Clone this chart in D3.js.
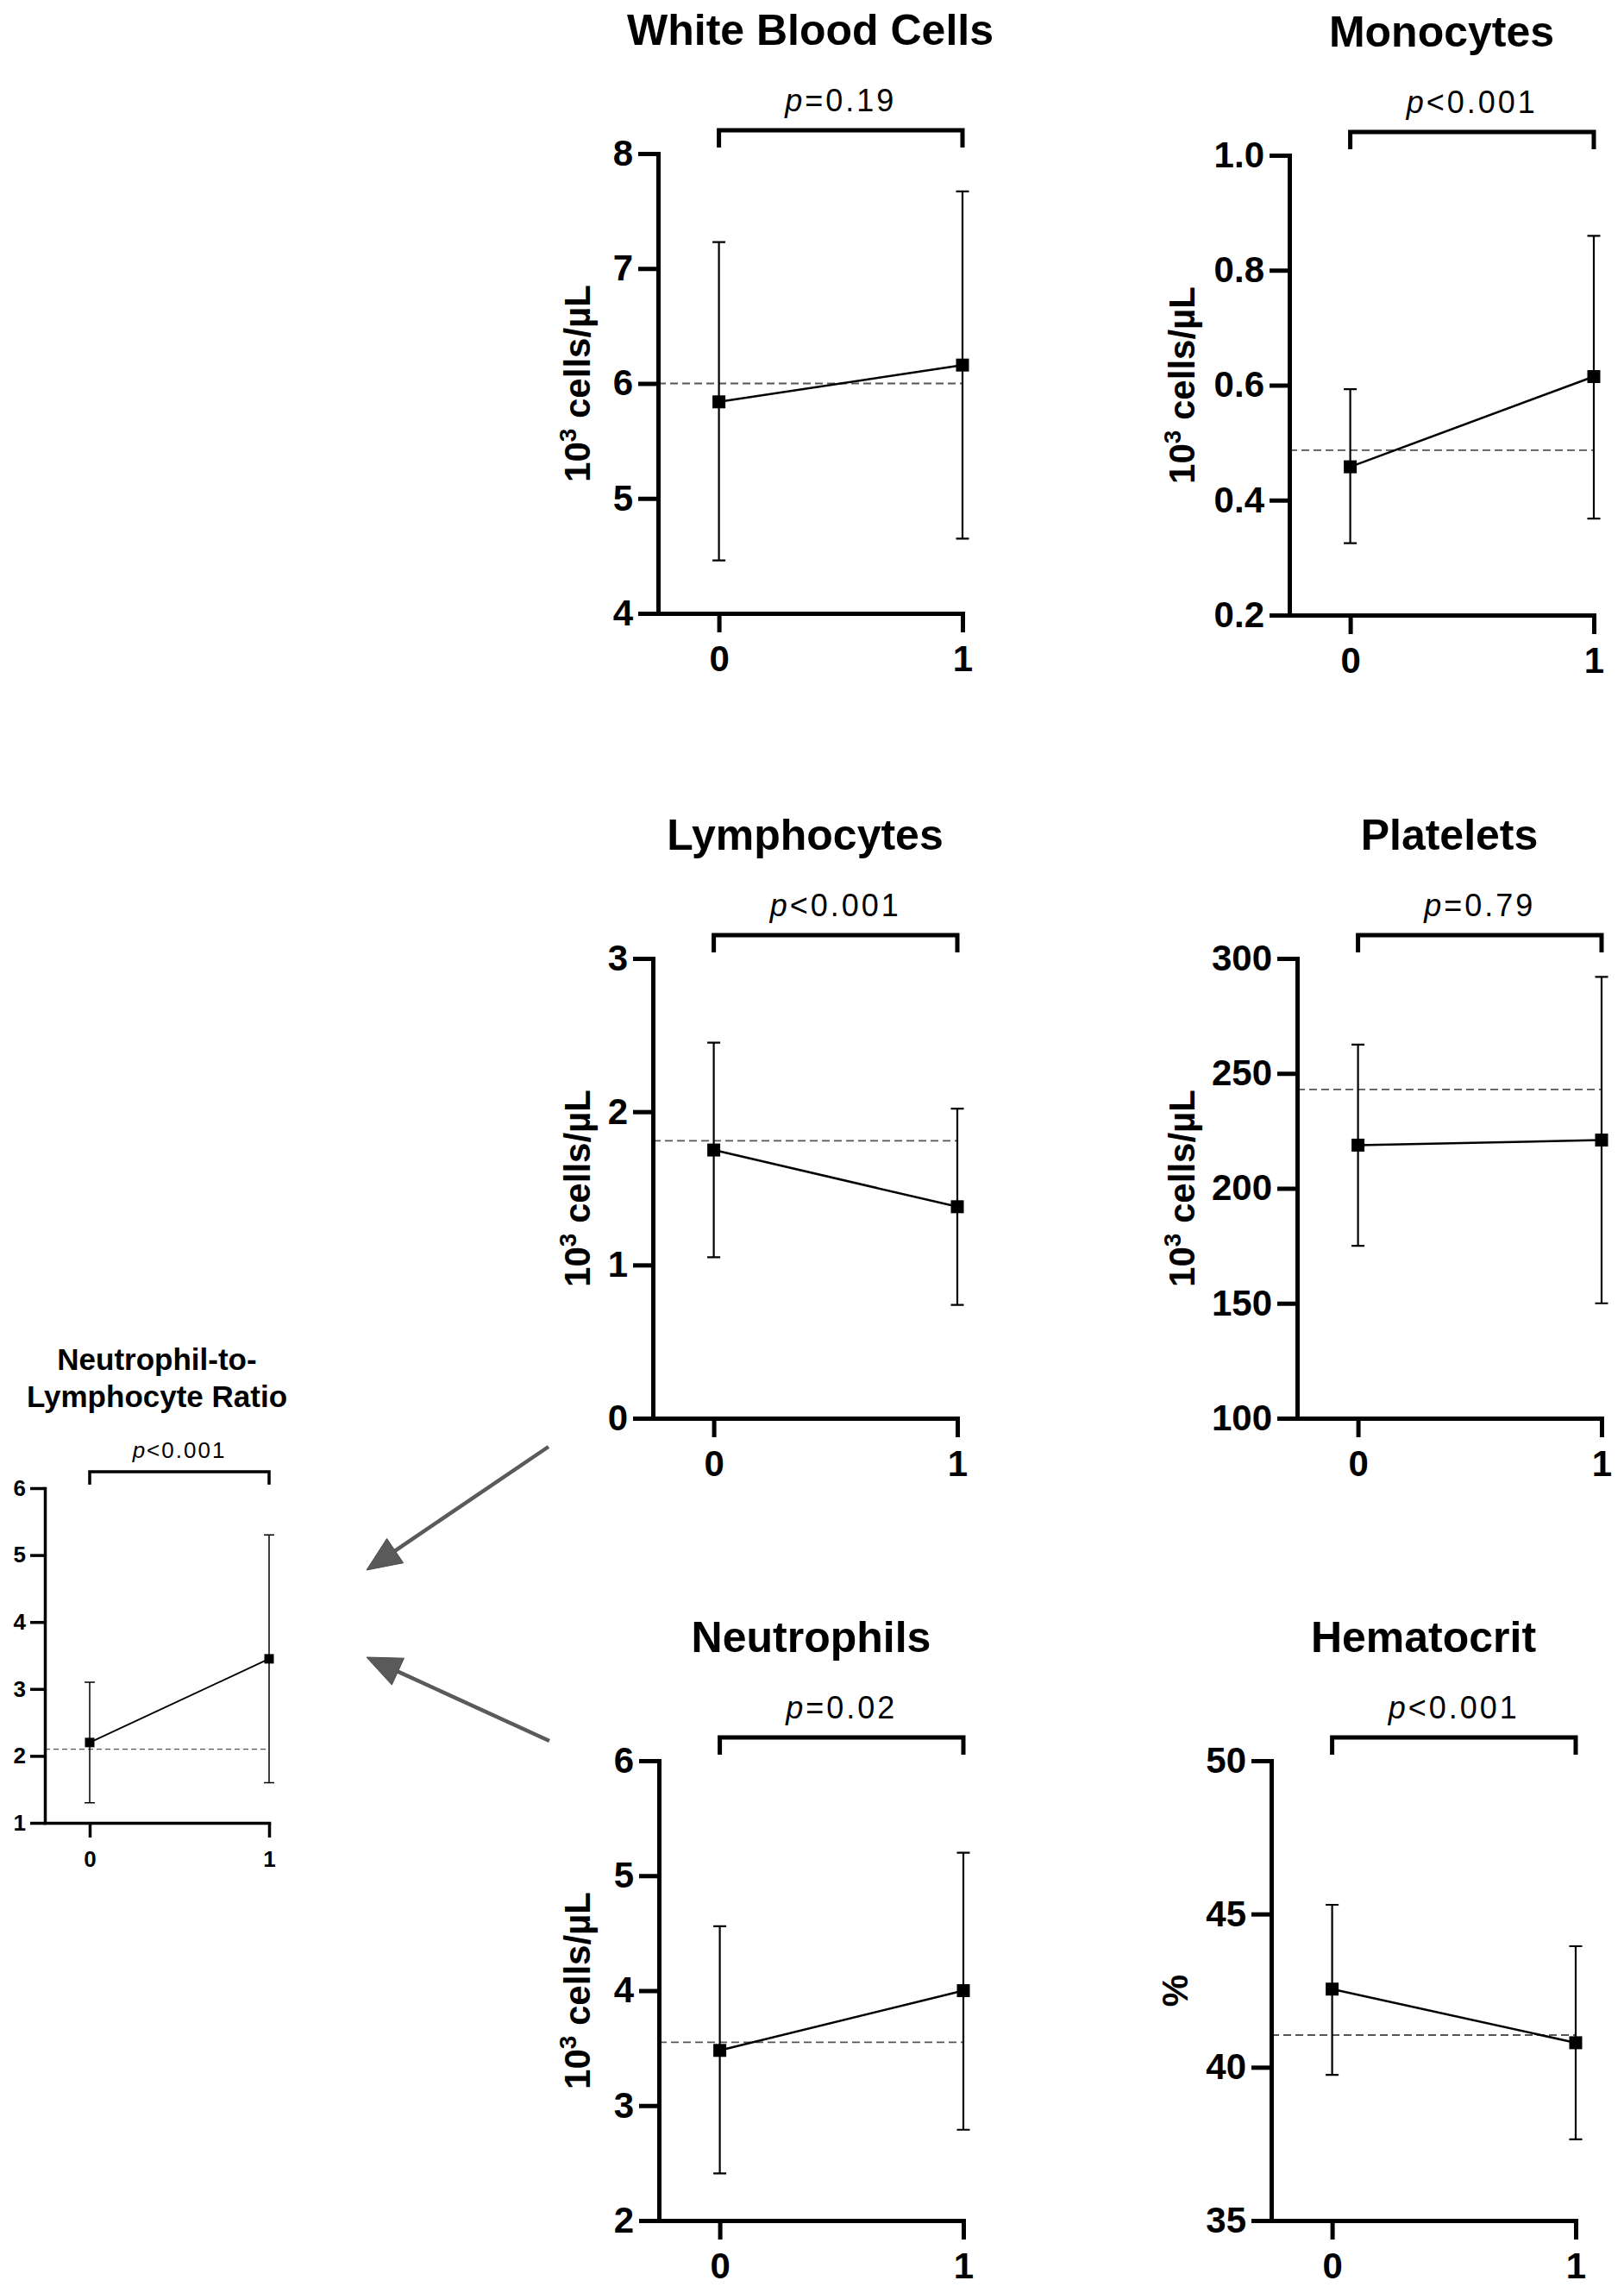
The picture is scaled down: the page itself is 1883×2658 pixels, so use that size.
<!DOCTYPE html>
<html>
<head>
<meta charset="utf-8">
<script src="https://cdn.jsdelivr.net/npm/d3@7"></script>
<style>
  body { margin: 0; background: #fff; }
  svg { display: block; }
  text { font-family: "Liberation Sans", Arial, Helvetica, sans-serif; }
</style>
</head>
<body>
<div id="container"></div>
<script>
// values
const groups = [0, 1];
const titles = ["White Blood Cells", "Monocytes", "Lymphocytes", "Platelets", "Neutrophils", "Hematocrit", "Neutrophil-to-|Lymphocyte Ratio"];
const yUnits = ["cells", "cells", "cells", "cells", "cells", "pct", "none"];
const means = [[5.84, 6.16], [0.458, 0.615], [1.75, 1.38], [218.8, 221.0], [3.48, 4.0], [42.55, 40.8], [2.2, 3.45]];
const lows = [[4.46, 4.65], [0.325, 0.368], [1.05, 0.74], [175, 150], [2.41, 2.79], [39.75, 37.65], [1.3, 1.6]];
const highs = [[7.23, 7.67], [0.593, 0.86], [2.45, 2.02], [262.5, 292], [4.56, 5.2], [45.3, 43.95], [3.1, 5.3]];
const refLines = [6.0, 0.487, 1.81, 243, 3.55, 41.05, 2.1];
const pValues = ["=0.19", "<0.001", "<0.001", "=0.79", "=0.02", "<0.001", "<0.001"];
const yDomains = [[4, 8], [0.2, 1.0], [0, 3], [100, 300], [2, 6], [35, 50], [1, 6]];
const yTicks = [[4, 5, 6, 7, 8], [0.2, 0.4, 0.6, 0.8, 1.0], [0, 1, 2, 3], [100, 150, 200, 250, 300], [2, 3, 4, 5, 6], [35, 40, 45, 50], [1, 2, 3, 4, 5, 6]];
const yFormats = ["d", ".1f", "d", "d", "d", "d", "d"];

// sizes for the big panels and the small NLR panel
const big = {
  height: 533, width: 353, tick: 23, xTick: 22, axisW: 5, tickFont: 42, tickPad: 6,
  xLabelDy: 67, titleFont: 50, titleDy: [-126], pFont: 36, pSpacing: 3, pDy: -49,
  bracketTop: -27, bracketEnd: -7, bracketW: 5, marker: 15, cap: 7.5, errW: 2.2,
  lineW: 2.5, dashW: 1.8, dash: "9,5", labelFont: 42
};
const small = {
  height: 388, width: 260, tick: 17, xTick: 17, axisW: 3.5, tickFont: 26, tickPad: 5,
  xLabelDy: 51, titleFont: 35, titleDy: [-137, -94], pFont: 26, pSpacing: 2, pDy: -35,
  bracketTop: -19, bracketEnd: -4, bracketW: 3.5, marker: 11, cap: 6, errW: 1.5,
  lineW: 1.8, dashW: 1.3, dash: "6,4", labelFont: 0
};
const layout = [
  {axisX: 763, top: 178, labelX: 684, s: big},
  {axisX: 1495, top: 180, labelX: 1385, s: big},
  {axisX: 757, top: 1111, labelX: 684, s: big},
  {axisX: 1504, top: 1111, labelX: 1385, s: big},
  {axisX: 764, top: 2041, labelX: 684, s: big},
  {axisX: 1474, top: 2041, labelX: 1377, s: big},
  {axisX: 52, top: 1725, labelX: 0, s: small}
];
const arrows = [
  {from: [636, 1677], to: [425, 1820]},
  {from: [637, 2018], to: [425, 1921]}
];

const svg = d3.select("#container")
  .append("svg")
  .attr("width", 1883)
  .attr("height", 2658);

svg.append("rect").attr("width", 1883).attr("height", 2658).attr("fill", "#fff");

titles.forEach((title, i) => {
  const L = layout[i];
  const s = L.s;
  const g = svg.append("g").attr("transform", `translate(${L.axisX},${L.top})`);

  const x = d3.scaleLinear().domain([-0.25, 1]).range([0, s.width]);
  const y = d3.scaleLinear().domain(yDomains[i]).range([s.height, 0]);

  // title (may be two lines)
  title.split("|").forEach((line, k) => {
    g.append("text")
      .attr("x", s.width / 2)
      .attr("y", s.titleDy[k])
      .attr("text-anchor", "middle")
      .style("font-size", s.titleFont + "px")
      .style("font-weight", "bold")
      .text(line);
  });

  // significance bracket
  g.append("path")
    .attr("d", `M${x(0)},${s.bracketEnd}V${s.bracketTop}H${x(1)}V${s.bracketEnd}`)
    .attr("fill", "none")
    .attr("stroke", "#000")
    .attr("stroke-width", s.bracketW);

  const pt = g.append("text")
    .attr("x", (x(0) + x(1)) / 2)
    .attr("y", s.pDy)
    .attr("text-anchor", "middle")
    .style("font-size", s.pFont + "px")
    .style("letter-spacing", s.pSpacing + "px");
  pt.append("tspan").style("font-style", "italic").text("p");
  pt.append("tspan").text(pValues[i]);

  // reference line
  g.append("line")
    .attr("x1", 0).attr("x2", x(1))
    .attr("y1", y(refLines[i])).attr("y2", y(refLines[i]))
    .attr("stroke", "#555")
    .attr("stroke-width", s.dashW)
    .attr("stroke-dasharray", s.dash);

  const pts = groups.map((gr, j) => ({g: gr, m: means[i][j], lo: lows[i][j], hi: highs[i][j]}));

  // error bars
  pts.forEach(d => {
    g.append("path")
      .attr("d", `M${x(d.g) - s.cap},${y(d.hi)}H${x(d.g) + s.cap}M${x(d.g)},${y(d.hi)}V${y(d.lo)}M${x(d.g) - s.cap},${y(d.lo)}H${x(d.g) + s.cap}`)
      .attr("fill", "none")
      .attr("stroke", "#000")
      .attr("stroke-width", s.errW);
  });

  g.append("path")
    .datum(pts)
    .attr("fill", "none")
    .attr("stroke", "#000")
    .attr("stroke-width", s.lineW)
    .attr("d", d3.line().x(d => x(d.g)).y(d => y(d.m)));

  g.selectAll(".pt")
    .data(pts)
    .join("rect")
    .attr("x", d => x(d.g) - s.marker / 2)
    .attr("y", d => y(d.m) - s.marker / 2)
    .attr("width", s.marker)
    .attr("height", s.marker)
    .attr("fill", "#000");

  // axes
  const yAxis = g.append("g")
    .call(d3.axisLeft(y).tickValues(yTicks[i]).tickFormat(d3.format(yFormats[i]))
      .tickSize(s.tick).tickSizeOuter(0).tickPadding(s.tickPad));
  const xAxis = g.append("g")
    .attr("transform", `translate(0,${s.height})`)
    .call(d3.axisBottom(x).tickValues(groups).tickFormat(d3.format("d"))
      .tickSize(s.xTick).tickSizeOuter(0));

  [yAxis, xAxis].forEach(ax => {
    ax.select(".domain").attr("stroke-width", s.axisW).attr("stroke-linecap", "square");
    ax.selectAll(".tick line").attr("stroke-width", s.axisW);
    ax.selectAll("text")
      .attr("fill", "#000")
      .style("font-family", '"Liberation Sans", Arial, sans-serif')
      .style("font-size", s.tickFont + "px")
      .style("font-weight", "bold");
  });
  xAxis.selectAll(".tick text").attr("y", s.xLabelDy).attr("dy", 0);

  // y axis title
  if (yUnits[i] !== "none") {
    const lab = svg.append("text")
      .attr("transform", `translate(${L.labelX},${L.top + s.height / 2}) rotate(-90)`)
      .attr("text-anchor", "middle")
      .style("font-size", s.labelFont + "px")
      .style("font-weight", "bold");
    if (yUnits[i] === "cells") {
      lab.append("tspan").text("10");
      lab.append("tspan").attr("dy", -16).style("font-size", "28px").text("3");
      lab.append("tspan").attr("dy", 16).text(" cells/µL");
    } else {
      lab.text("%");
    }
  }
});

// arrows pointing to the ratio panel
arrows.forEach(a => {
  const [x1, y1] = a.from;
  const [x2, y2] = a.to;
  const ang = Math.atan2(y2 - y1, x2 - x1);
  const headLen = 40, headHalf = 17;
  const bx = x2 - headLen * Math.cos(ang);
  const by = y2 - headLen * Math.sin(ang);
  const px = -Math.sin(ang) * headHalf, py = Math.cos(ang) * headHalf;
  svg.append("line")
    .attr("x1", x1).attr("y1", y1).attr("x2", bx).attr("y2", by)
    .attr("stroke", "#5a5a5a")
    .attr("stroke-width", 4.5);
  svg.append("polygon")
    .attr("points", [[x2, y2], [bx + px, by + py], [bx - px, by - py]].map(p => p.join(",")).join(" "))
    .attr("fill", "#5a5a5a")
    .attr("stroke", "#4a4a4a")
    .attr("stroke-width", 1);
});
</script>
</body>
</html>
